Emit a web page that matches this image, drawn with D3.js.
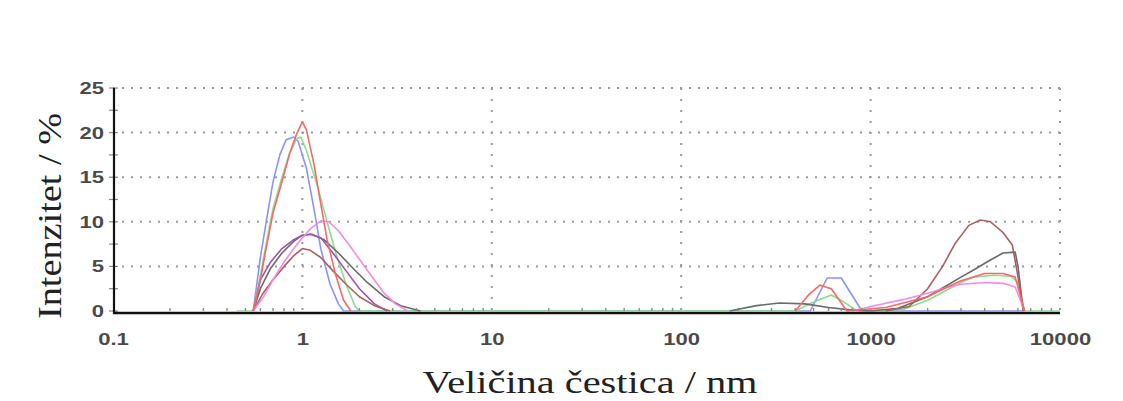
<!DOCTYPE html>
<html>
<head>
<meta charset="utf-8">
<script src="https://cdn.jsdelivr.net/npm/d3@7"></script>
<style>
  body { margin: 0; background: #fff; }
  svg { display: block; }
</style>
</head>
<body>
<svg id="chart"></svg>
<script>
// tick values and labels
const xTicks = [0.1, 1, 10, 100, 1000, 10000]
const xTickLabels = ['0.1', '1', '10', '100', '1000', '10000']
const yTicks = [0, 5, 10, 15, 20, 25]

// series: [size nm, intensity %]
const blue = [[0.55,0],[0.6,6],[0.65,10.5],[0.7,14.5],[0.76,17.5],[0.82,19.2],[0.9,19.5],[0.95,19],[1.05,16],[1.15,11.5],[1.25,7],[1.4,3],[1.55,0.8],[1.65,0],
  [480,0],[590,3.7],[700,3.7],[900,0],[1000,0],[6500,0]]
const green = [[0.45,0],[0.55,0],[0.6,4],[0.65,8],[0.7,11.5],[0.78,15],[0.85,17.5],[0.93,19.3],[0.98,19.5],[1.05,18],[1.2,14],[1.35,10],[1.5,6.5],[1.7,3],[1.9,0.5],[2.0,0],
  [400,0],[500,1],[620,1.8],[700,1.2],[850,0],[1500,0.2],[2000,1.2],[2500,2.3],[3000,3.2],[3500,3.8],[4500,4.0],[5500,3.9],[6000,3.2],[6500,0],[10000,0]]
const red = [[0.55,0],[0.6,3.5],[0.65,7.5],[0.7,11],[0.78,14.5],[0.86,17.8],[0.93,19.8],[1.0,21.2],[1.05,20.3],[1.15,16.5],[1.25,12],[1.35,8],[1.5,4],[1.65,1.2],[1.8,0],
  [400,0],[470,1.8],[540,2.9],[620,2.5],[750,0],[1200,0.4],[2000,1.6],[2500,2.6],[3000,3.4],[4000,4.2],[5000,4.2],[5800,3.8],[6500,0]]
const pink = [[0.55,0],[0.62,1.5],[0.7,3.5],[0.8,5.5],[0.9,7],[1.0,8.2],[1.1,9.2],[1.25,10.1],[1.38,10],[1.55,9],[1.75,7.5],[2.0,5.8],[2.3,4],[2.7,2],[3.1,0.8],[3.6,0],
  [800,0],[1000,0.5],[1500,1.3],[2000,2.0],[2500,2.6],[3000,3.0],[4000,3.2],[5000,3.1],[5800,2.7],[6500,0]]
const purple = [[0.55,0],[0.6,3.5],[0.68,5.5],[0.78,7],[0.9,8],[1.0,8.5],[1.1,8.6],[1.25,8.2],[1.45,6.5],[1.7,4.5],[2.0,2.5],[2.4,0.8],[2.8,0]]
const gray = [[0.55,0],[0.6,2.5],[0.68,4.8],[0.78,6.5],[0.9,7.8],[1.0,8.5],[1.12,8.6],[1.3,8],[1.55,6.5],[1.85,4.8],[2.2,3.2],[2.7,1.6],[3.3,0.6],[4.2,0],
  [180,0],[250,0.6],[330,0.9],[450,0.8],[600,0.4],[800,0.1],[1000,0],[1400,0.3],[2000,1.6],[2500,2.8],[3000,3.8],[3500,4.6],[4200,5.6],[5000,6.5],[5800,6.6],[6000,5],[6400,0]]
const brown = [[0.55,0],[0.62,2],[0.7,3.5],[0.8,5],[0.9,6.2],[1.0,7],[1.1,6.8],[1.25,6],[1.45,4.5],[1.7,3],[2.0,1.6],[2.4,0.6],[2.9,0],
  [1200,0],[1600,0.5],[2000,2.5],[2400,5],[2800,7.6],[3300,9.6],[3800,10.2],[4300,10],[5000,8.8],[5600,7.4],[6100,3],[6400,0]]

const seriesList = [
  {data: blue, color: '#8a94f2', baseline: true},
  {data: green, color: '#8ddc8d', baseline: true},
  {data: gray, color: '#6a6a6a'},
  {data: purple, color: '#9a55b0'},
  {data: brown, color: '#a86060'},
  {data: pink, color: '#f08ce8'},
  {data: red, color: '#f26a6a'}
]

//canvas size
let width = 1123
let height = 401

let svg = d3.select('#chart')
  .attr('width', width)
  .attr('height', height)

let xScale = d3.scaleLog()
  .domain([0.1, 10000])
  .range([113, 1060])

let yScale = d3.scaleLinear()
  .domain([0, 25])
  .range([311, 88])

// dotted grid
svg.append('g')
  .selectAll('line')
  .data(yTicks.slice(1))
  .enter()
  .append('line')
  .attr('x1', xScale(0.1))
  .attr('x2', xScale(10000))
  .attr('y1', (d) => yScale(d))
  .attr('y2', (d) => yScale(d))
  .attr('stroke', '#9a9a9a')
  .attr('stroke-width', 2)
  .attr('stroke-dasharray', '2,7')

svg.append('g')
  .selectAll('line')
  .data(xTicks.slice(1))
  .enter()
  .append('line')
  .attr('x1', (d) => xScale(d))
  .attr('x2', (d) => xScale(d))
  .attr('y1', yScale(25))
  .attr('y2', yScale(0))
  .attr('stroke', '#9a9a9a')
  .attr('stroke-width', 2)
  .attr('stroke-dasharray', '2,9')

// x axis (labels only, line drawn separately)
let xAxis = d3.axisBottom(xScale)
  .tickValues(xTicks)
  .tickFormat((d, i) => xTickLabels[i])
  .tickSize(0)
  .tickPadding(0)

let gx = svg.append('g')
  .attr('transform', 'translate(0, 330)')
  .call(xAxis)
gx.select('.domain').remove()
gx.selectAll('text')
  .attr('transform', 'scale(1.3,1)')
  .attr('dy', '0.9em')
  .style('font-family', '"Liberation Sans", Arial, sans-serif')
  .style('font-size', '17px')
  .style('font-weight', 'bold')
  .attr('fill', '#4a4a4a')

// y axis labels
let yAxis = d3.axisLeft(yScale)
  .tickValues(yTicks)
  .tickSize(0)
  .tickPadding(0)

let gy = svg.append('g')
  .attr('transform', 'translate(104, 0)')
  .call(yAxis)
gy.select('.domain').remove()
gy.selectAll('text')
  .attr('transform', 'scale(1.3,1)')
  .style('font-family', '"Liberation Sans", Arial, sans-serif')
  .style('font-size', '17px')
  .style('font-weight', 'bold')
  .attr('fill', '#4a4a4a')

// minor ticks on the y axis
let yMinor = d3.range(0, 25.1, 2.5)
svg.append('g')
  .selectAll('line')
  .data(yMinor)
  .enter()
  .append('line')
  .attr('x1', 109)
  .attr('x2', 118)
  .attr('y1', (d) => yScale(d))
  .attr('y2', (d) => yScale(d))
  .attr('stroke', '#888')
  .attr('stroke-width', 1.2)

// axis lines
svg.append('line')
  .attr('x1', 114).attr('x2', 114)
  .attr('y1', yScale(25)).attr('y2', 314)
  .attr('stroke', '#111').attr('stroke-width', 2.2)
svg.append('line')
  .attr('x1', 113).attr('x2', xScale(10000))
  .attr('y1', 313).attr('y2', 313)
  .attr('stroke', '#111').attr('stroke-width', 2.6)

// curves; zero runs between peaks are skipped unless the series is a baseline one
let line = d3.line()
  .x((d) => xScale(d[0]))
  .y((d) => yScale(d[1]))

let pieces = (s) => {
  if (s.baseline) return [s.data]
  let out = []
  let cur = [s.data[0]]
  for (let i = 1; i < s.data.length; i++) {
    let p = s.data[i - 1], q = s.data[i]
    if (p[1] === 0 && q[1] === 0) {
      if (cur.length > 1) out.push(cur)
      cur = [q]
    } else {
      cur.push(q)
    }
  }
  if (cur.length > 1) out.push(cur)
  return out
}

seriesList.forEach((s) => {
  svg.append('g')
    .selectAll('path')
    .data(pieces(s))
    .enter()
    .append('path')
    .attr('d', (d) => line(d))
    .attr('fill', 'none')
    .attr('stroke', s.color)
    .attr('stroke-width', 1.6)
    .attr('stroke-linejoin', 'round')
})

// minor ticks on the x axis
let xMinor = []
for (let dec = 0.1; dec < 10000; dec *= 10) {
  for (let k = 2; k <= 9; k++) xMinor.push(dec * k)
}
svg.append('g')
  .selectAll('line')
  .data(xMinor)
  .enter()
  .append('line')
  .attr('x1', (d) => xScale(d))
  .attr('x2', (d) => xScale(d))
  .attr('y1', 308)
  .attr('y2', 311)
  .attr('stroke', '#888')
  .attr('stroke-width', 1.4)

// titles
svg.append('text')
  .attr('x', 590)
  .attr('y', 393)
  .attr('text-anchor', 'middle')
  .attr('textLength', 335)
  .attr('lengthAdjust', 'spacingAndGlyphs')
  .style('font-family', '"Liberation Serif", "Times New Roman", serif')
  .style('font-size', '31px')
  .attr('fill', '#222')
  .text('Veličina čestica / nm')

svg.append('text')
  .attr('transform', 'translate(61, 216) rotate(-90)')
  .attr('text-anchor', 'middle')
  .attr('textLength', 206)
  .attr('lengthAdjust', 'spacingAndGlyphs')
  .style('font-family', '"Liberation Serif", "Times New Roman", serif')
  .style('font-size', '34px')
  .attr('fill', '#222')
  .text('Intenzitet / %')
</script>
</body>
</html>
